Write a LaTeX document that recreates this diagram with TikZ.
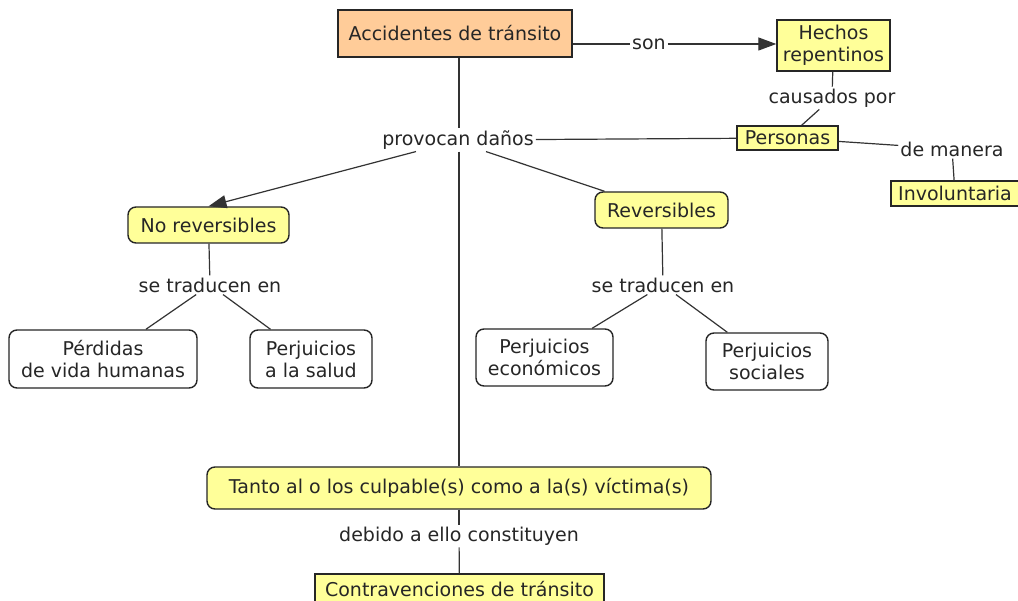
\documentclass[tikz,border=0pt]{standalone}
\usepackage{fontspec}
\setmainfont{DejaVu Sans}
\usetikzlibrary{positioning, arrows.meta}

\definecolor{cmapyellow}{HTML}{FFFF99}
\definecolor{cmaporange}{HTML}{FFCC99}

\begin{document}
\begin{tikzpicture}[
        x=1pt, y=-1pt,
        font=\fontsize{19}{22}\selectfont,
        text=black!85,
        concept/.style={
            rectangle,
            draw=black!85,
            line width=1.4pt,
            fill=cmapyellow,
            inner sep=2pt,
            text centered,
            align=center
        },
        rconcept/.style={concept, rounded corners=8pt},
        wconcept/.style={rconcept, fill=white},
        plain/.style={
            inner sep=2pt,
            text centered,
            align=center
        },
        line/.style={draw=black!80, line width=1.2pt},
        arrow/.style={line, -{Triangle[length=18pt, width=13pt]}}
    ]
        \path [use as bounding box, fill=white] (0,0) rectangle (1018,601);

        % Nodes
        \node [concept, fill=cmaporange, minimum width=234pt, minimum height=47pt] (acc) at (455,33.5) {Accidentes de tránsito};
        \node [plain] (son) at (649,44) {son};
        \node [concept, minimum width=113pt, minimum height=51pt] (hechos) at (833.5,45.5) {Hechos\\repentinos};
        \node [plain] (causa) at (832,98) {causados por};
        \node [concept, minimum width=101pt, minimum height=24pt] (pers) at (787.5,138) {Personas};
        \node [plain] (manera) at (952,149) {de manera};
        \node [concept, minimum width=128pt, minimum height=25pt] (invol) at (955,193.5) {Involuntaria};
        \node [plain] (prov) at (458,140) {provocan daños};
        \node [rconcept, minimum width=161pt, minimum height=36pt] (norev) at (208.5,225) {No reversibles};
        \node [rconcept, minimum width=133pt, minimum height=36pt] (rev) at (661.5,210) {Reversibles};
        \node [plain] (tradA) at (210,285) {se traducen en};
        \node [plain] (tradB) at (663,285) {se traducen en};
        \node [wconcept, minimum width=188pt, minimum height=58pt] (perd) at (103,359) {Pérdidas\\de vida humanas};
        \node [wconcept, minimum width=122pt, minimum height=58pt] (salud) at (311,359) {Perjuicios\\a la salud};
        \node [wconcept, minimum width=137pt, minimum height=57pt] (econ) at (544.5,357.5) {Perjuicios\\económicos};
        \node [wconcept, minimum width=122pt, minimum height=57pt] (soc) at (767,361.5) {Perjuicios\\sociales};
        \node [rconcept, minimum width=504pt, minimum height=42pt] (tanto) at (459,488) {Tanto al o los culpable(s) como a la(s) víctima(s)};
        \node [plain] (debido) at (459,536) {debido a ello constituyen};
        \node [concept, minimum width=289pt, minimum height=30pt] (contra) at (459.5,589) {Contravenciones de tránsito};

        % Paths
        \path [line] (acc.east |- son) -- (son);
        \path [arrow] (son) -- (hechos.west |- son);
        \path [line] (hechos) -- (causa);
        \path [line] (causa) -- (pers);
        \path [line] (prov) -- (pers);
        \path [line] (pers) -- (manera);
        \path [line] (manera) -- (invol);
        \path [line] (acc.south -| tanto) -- (prov.north -| tanto);
        \path [line] (prov.south -| tanto) -- (tanto);
        \path [arrow] ([xshift=-42pt]prov.south) -- (norev.north);
        \path [line] ([xshift=28pt]prov.south) -- ([xshift=-57pt]rev.north);
        \path [line] (norev) -- (tradA);
        \path [line] (tradA) -- (perd);
        \path [line] (tradA) -- (salud);
        \path [line] (rev) -- (tradB);
        \path [line] (tradB) -- (econ);
        \path [line] (tradB) -- (soc);
        \path [line] (tanto) -- (debido);
        \path [line] (debido) -- (contra);
    \end{tikzpicture}
\end{document}
